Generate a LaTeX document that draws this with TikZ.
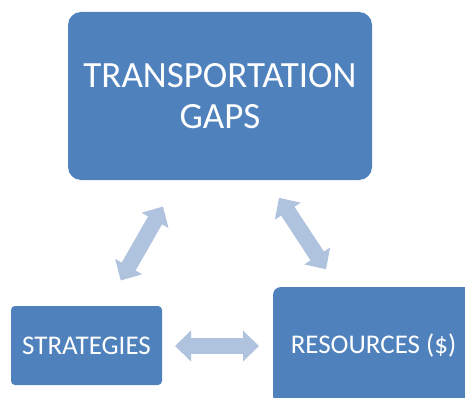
\documentclass[tikz,border=0pt]{standalone}
\usepackage{fontspec}
\setmainfont{Carlito}
\usetikzlibrary{arrows.meta}
\definecolor{boxblue}{HTML}{4F81BD}
\definecolor{arrowblue}{HTML}{B0C3DE}
\begin{document}
\begin{tikzpicture}[x=1pt,y=-1pt,
  box/.style={fill=boxblue, draw=none, text=white, inner sep=0pt, align=center},
  blockarrow/.style={line width=16pt, draw=arrowblue,
    {Triangle[width=30pt 0,length=16pt 0]}-{Triangle[width=30pt 0,length=16pt 0]}}]
\useasboundingbox (0,0) rectangle (465,398);
\clip (0,0) rectangle (465,398);
\node[box, rounded corners=13pt, minimum width=304pt, minimum height=168pt,
      font=\fontsize{37}{41}\selectfont] (gaps) at (220,96) {TRANSPORTATION\\GAPS};
\node[box, rounded corners=4pt, minimum width=151pt, minimum height=79pt,
      font=\fontsize{27}{30}\selectfont] (strat) at (86.5,345.5) {STRATEGIES};
\node[box, rounded corners=8pt, minimum width=201pt, minimum height=117pt,
      font=\fontsize{27}{30}\selectfont] (res) at (373.5,345.5) {RESOURCES (\$)};
\coordinate (l1) at (120.7,280.5);
\coordinate (l2) at (163,206.5);
\coordinate (r1) at (279,197.8);
\coordinate (r2) at (326,269.3);
\coordinate (h1) at (175,346);
\coordinate (h2) at (259,346);
\draw[blockarrow] (l1) -- (l2);
\draw[blockarrow] (r1) -- (r2);
\draw[blockarrow] (h1) -- (h2);
\end{tikzpicture}
\end{document}
